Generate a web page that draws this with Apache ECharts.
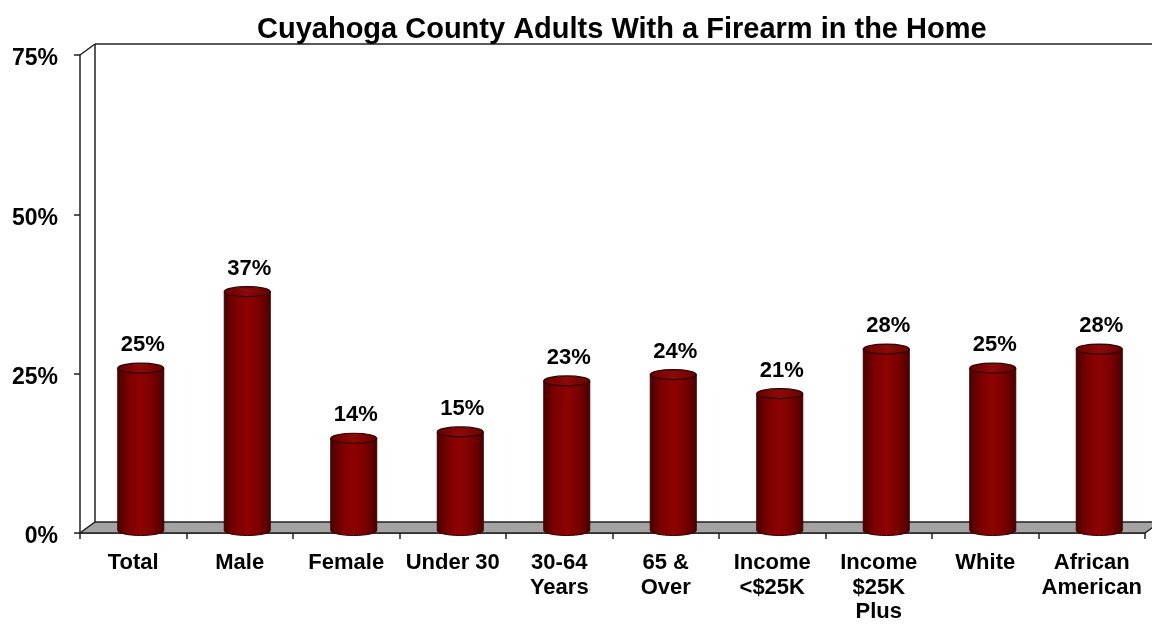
<!DOCTYPE html>
<html>
<head>
<meta charset="utf-8">
<script src="https://cdn.jsdelivr.net/npm/echarts@6/dist/echarts.min.js"></script>
<style>
html,body{margin:0;padding:0;background:#fff;}
#chart{width:1152px;height:627px;}
</style>
</head>
<body>
<div id="chart"></div>
<script>
const titleText = 'Cuyahoga County Adults With a Firearm in the Home';
const categories = ['Total', 'Male', 'Female', 'Under 30', '30-64\nYears', '65 &\nOver', 'Income\n<$25K', 'Income\n$25K\nPlus', 'White', 'African\nAmerican'];
const values = [25, 37, 14, 15, 23, 24, 21, 28, 25, 28];
const yTicks = [0, 25, 50, 75];

const DX = 15, DY = -11;      // 3D depth offset
const FONT = 'Liberation Sans, Arial, sans-serif';

function ellipsePath(cx, cy, rx, ry) {
  const k = 0.5523;
  return 'M' + (cx - rx) + ' ' + cy +
    ' C' + (cx - rx) + ' ' + (cy - ry * k) + ' ' + (cx - rx * k) + ' ' + (cy - ry) + ' ' + cx + ' ' + (cy - ry) +
    ' C' + (cx + rx * k) + ' ' + (cy - ry) + ' ' + (cx + rx) + ' ' + (cy - ry * k) + ' ' + (cx + rx) + ' ' + cy +
    ' C' + (cx + rx) + ' ' + (cy + ry * k) + ' ' + (cx + rx * k) + ' ' + (cy + ry) + ' ' + cx + ' ' + (cy + ry) +
    ' C' + (cx - rx * k) + ' ' + (cy + ry) + ' ' + (cx - rx) + ' ' + (cy + ry * k) + ' ' + (cx - rx) + ' ' + cy + ' Z';
}
function cylBodyPath(cx, yTop, yBot, rx, ry) {
  const k = 0.5523;
  const x0 = cx - rx, x1 = cx + rx;
  return 'M' + x0 + ' ' + yTop + ' L' + x0 + ' ' + yBot +
    ' C' + x0 + ' ' + (yBot + ry * k) + ' ' + (cx - rx * k) + ' ' + (yBot + ry) + ' ' + cx + ' ' + (yBot + ry) +
    ' C' + (cx + rx * k) + ' ' + (yBot + ry) + ' ' + x1 + ' ' + (yBot + ry * k) + ' ' + x1 + ' ' + yBot +
    ' L' + x1 + ' ' + yTop + ' Z';
}

const chart = echarts.init(document.getElementById('chart'), null, {renderer: 'canvas'});

const option = {
  backgroundColor: '#ffffff',
  animation: false,
  title: {
    text: titleText,
    left: 252, top: 10,
    textStyle: {fontFamily: FONT, fontSize: 29, fontWeight: 'bold', color: '#000'}
  },
  grid: {left: 80, right: 7, top: 55, bottom: 94, containLabel: false},
  xAxis: {
    type: 'category',
    data: categories,
    boundaryGap: true,
    axisLine: {show: true, lineStyle: {color: '#222', width: 1.5}},
    axisTick: {show: true, length: 6, alignWithLabel: false, lineStyle: {color: '#222', width: 1.5}},
    axisLabel: {
      interval: 0, margin: 18, color: '#000',
      fontFamily: FONT, fontSize: 22, fontWeight: 'bold', lineHeight: 24.5
    },
    splitLine: {show: false}
  },
  yAxis: {
    type: 'value',
    min: 0, max: 75, interval: 25,
    axisLine: {show: true, lineStyle: {color: '#222', width: 1.5}},
    axisTick: {show: true, length: 6, lineStyle: {color: '#222', width: 1.5}},
    axisLabel: {
      margin: 22, color: '#000', fontFamily: FONT, fontSize: 23, fontWeight: 'bold',
      verticalAlign: 'top', lineHeight: 8,
      formatter: function (v) { return yTicks.indexOf(v) >= 0 ? v + '%' : ''; }
    },
    splitLine: {show: false}
  },
  series: [
    {
      type: 'custom',
      name: 'frame',
      z: 1,
      silent: true,
      data: [0],
      renderItem: function (params, api) {
        const cs = params.coordSys;
        const x = cs.x, yt = cs.y, w = cs.width, yb = cs.y + cs.height;
        const ls = {stroke: '#222', lineWidth: 1.5, fill: null};
        return {
          type: 'group',
          children: [
            {type: 'polygon', shape: {points: [[x, yb], [x + w, yb], [x + w + DX, yb + DY], [x + DX, yb + DY]]},
              style: {fill: '#a3a3a3', stroke: '#222', lineWidth: 1.5}},
            {type: 'line', shape: {x1: x + DX, y1: yb + DY, x2: x + DX, y2: yt + DY}, style: ls},
            {type: 'line', shape: {x1: x + DX, y1: yt + DY, x2: x + w + DX + 20, y2: yt + DY}, style: ls},
            {type: 'line', shape: {x1: x, y1: yt, x2: x + DX, y2: yt + DY}, style: ls}
          ]
        };
      }
    },
    {
      type: 'custom',
      name: 'Adults with firearm',
      z: 3,
      data: values.map(function (v, i) { return [i, v]; }),
      encode: {x: 0, y: 1},
      renderItem: function (params, api) {
        const idx = api.value(0), val = api.value(1);
        const base = api.coord([idx, 0]);
        const top = api.coord([idx, val]);
        const cx = base[0] + DX / 2;
        const yBot = base[1] + DY / 2 + 3;
        const yTop = top[1] + DY / 2;
        const rx = 23, ry = 5;
        return {
          type: 'group',
          children: [
            {type: 'path', shape: {pathData: cylBodyPath(cx, yTop, yBot, rx, ry)},
              style: {
                fill: {type: 'linear', x: 0, y: 0, x2: 1, y2: 0, colorStops: [
                  {offset: 0, color: '#4a0000'}, {offset: 0.25, color: '#7c0000'},
                  {offset: 0.5, color: '#8e0303'}, {offset: 0.75, color: '#7a0000'},
                  {offset: 1, color: '#4a0000'}]},
                stroke: '#3a0000', lineWidth: 1
              }},
            {type: 'path', shape: {pathData: ellipsePath(cx, yTop, rx, ry)},
              style: {
                fill: {type: 'linear', x: 0, y: 0, x2: 1, y2: 0, colorStops: [
                  {offset: 0, color: '#6a0000'}, {offset: 0.5, color: '#8c0a0a'}, {offset: 1, color: '#6a0000'}]},
                stroke: '#2a0000', lineWidth: 1.2
              }},
            {type: 'text', x: cx + 2, y: yTop - ry - 7,
              style: {text: val + '%', fill: '#000', font: 'bold 22px ' + FONT, textAlign: 'center', textVerticalAlign: 'bottom'}}
          ]
        };
      }
    }
  ]
};
chart.setOption(option);
</script>
</body>
</html>
